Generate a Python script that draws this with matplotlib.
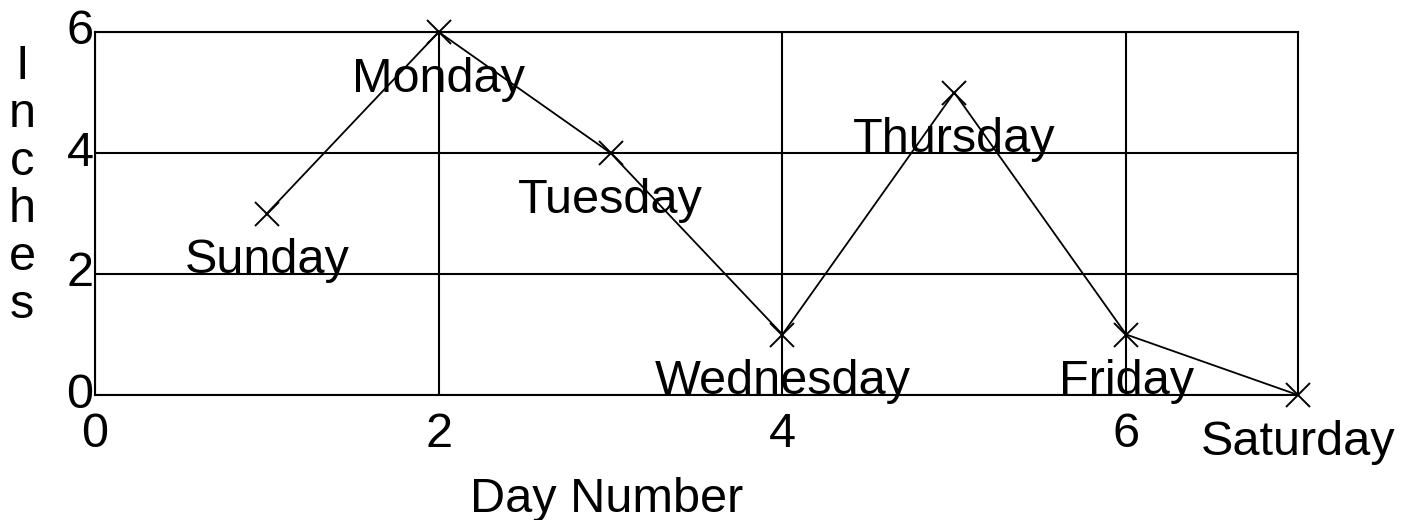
import matplotlib
matplotlib.use("Agg")
import matplotlib.pyplot as plt

days = [1, 2, 3, 4, 5, 6, 7]
inches = [3, 6, 4, 1, 5, 1, 0]
day_names = ["Sunday", "Monday", "Tuesday", "Wednesday", "Thursday", "Friday", "Saturday"]
x_ticks = [0, 2, 4, 6]
y_ticks = [0, 2, 4, 6]

plt.rcParams['font.family'] = ['Liberation Sans', 'DejaVu Sans']
FS = 35

fig = plt.figure(figsize=(14.19, 5.2), dpi=100)
ax = fig.add_axes([95/1419, 125/520, (1298-95)/1419, (395-32)/520])

ax.plot(days, inches, color='black', linewidth=1.3, marker='x',
        markersize=17, markeredgewidth=1.4, clip_on=False, zorder=3)

for d, v, name in zip(days, inches, day_names):
    ax.annotate(name, (d, v), xytext=(0, -43), textcoords='offset points',
                ha='center', va='baseline', fontsize=FS, color='black',
                annotation_clip=False, zorder=4)

ax.set_xlim(0, 7)
ax.set_ylim(0, 6)
ax.set_xticks(x_ticks)
ax.set_yticks(y_ticks)
ax.set_xticklabels([str(t) for t in x_ticks])
ax.set_yticklabels([str(t) for t in y_ticks])
ax.tick_params(axis='both', length=0, labelsize=FS)
ax.tick_params(axis='x', pad=12)
ax.tick_params(axis='y', pad=1)
for lab in ax.get_yticklabels():
    lab.set_verticalalignment('center')

ax.grid(True, color='black', linewidth=1.5)
ax.set_axisbelow(True)
for s in ax.spines.values():
    s.set_linewidth(1.5)
    s.set_color('black')

fig.text(607/1419, 1 - 512/520, "Day Number", ha='center', va='baseline', fontsize=FS)
fig.text(22/1419, 1 - 186/520, "I\nn\nc\nh\ne\ns", ha='center', va='center',
         fontsize=FS, linespacing=1.08, multialignment='center')

fig.savefig("out.png", dpi=100, facecolor='white')
